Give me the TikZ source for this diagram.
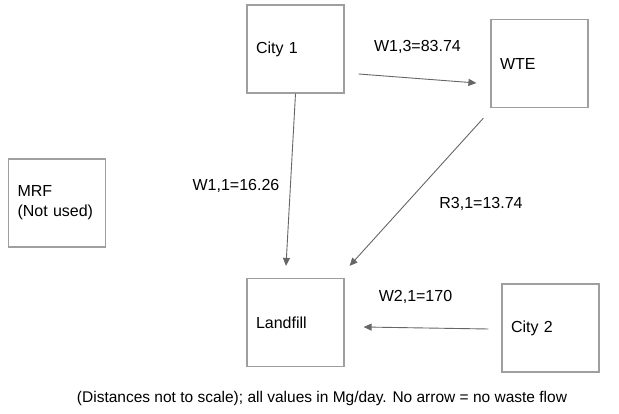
\documentclass[tikz,border=0pt]{standalone}
\usepackage{fontspec}
\setmainfont{Liberation Sans}
\usetikzlibrary{arrows.meta}

\begin{document}
\begin{tikzpicture}[x=1pt,y=-1pt,
  facility/.style={draw=gray!75, line width=1.2pt, minimum width=97pt, minimum height=88pt,
    text width=79pt, inner sep=9pt, align=left, font=\fontsize{16}{20}\selectfont},
  flow/.style={draw=black!60, line width=0.9pt, -{Triangle[length=8pt,width=7pt]}},
  flowlabel/.style={font=\fontsize{16}{20}\selectfont, inner sep=0pt}]
\useasboundingbox (0,0) rectangle (619,414);

% Facilities
\node[facility] (city1) at (295.5,49) {City 1};
\node[facility] (wte) at (539.5,63.5) {WTE};
\node[facility] (mrf) at (57,203) {MRF\\(Not used)};
\node[facility] (landfill) at (295.5,322.5) {Landfill};
\node[facility] (city2) at (550.5,328) {City 2};

% Waste flows
\draw[flow] ([shift={(14,25)}]city1.east) -- ([shift={(-14,19.5)}]wte.west);
\draw[flow] (city1.south) -- ([shift={(-9.5,-12)}]landfill.north);
\draw[flow] ([shift={(-7,10)}]wte.south west) -- ([shift={(5,-12)}]landfill.north east);
\draw[flow] ([shift={(-13,1)}]city2.west) -- ([shift={(19,4.5)}]landfill.east);

% Labels
\node[flowlabel] (w13) at (417.5,47) {W1,3=83.74};
\node[flowlabel] (w11) at (236,186) {W1,1=16.26};
\node[flowlabel] (r31) at (481,204) {R3,1=13.74};
\node[flowlabel] (w21) at (415.5,297) {W2,1=170};

% Note
\node[flowlabel, font=\fontsize{15.5}{19}\selectfont] (note) at (322,398) {(Distances not to scale); all values in Mg/day. No arrow = no waste flow};
\end{tikzpicture}
\end{document}
